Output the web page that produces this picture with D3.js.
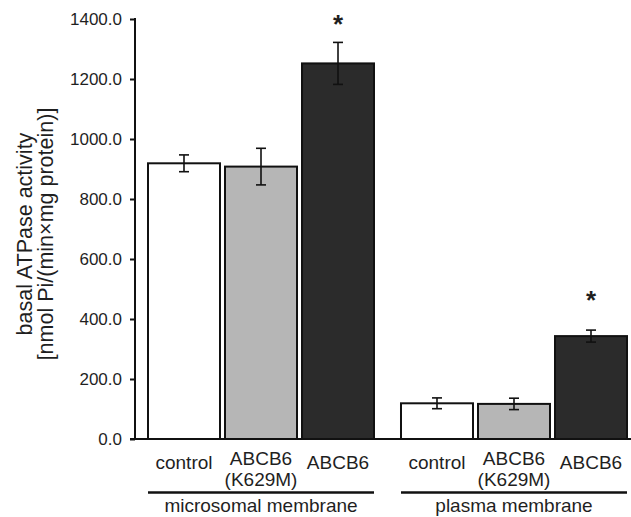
<!DOCTYPE html>
<html>
<head>
<meta charset="utf-8">
<script src="https://cdn.jsdelivr.net/npm/d3@7/dist/d3.min.js"></script>
<style>
  body { margin: 0; background: #fff; }
  svg { display: block; }
  text { font-family: Arial, "Liberation Sans", sans-serif; fill: #1f1f1f; }
</style>
</head>
<body>
<svg id="chart" width="631" height="517"></svg>
<script>
// ---- data ----
const groups = ["microsomal membrane", "plasma membrane"];
const categories = ["control", "ABCB6 (K629M)", "ABCB6"];
const categoryLines = [["control"], ["ABCB6", "(K629M)"], ["ABCB6"]];
const microValues = [919, 908, 1252];
const microErrors = [28, 61, 70];
const plasmaValues = [119, 117, 343];
const plasmaErrors = [18, 19, 20];
const significant = [false, false, true];
const starValues = [1397, 477];   // y value of the "*" annotation per group
const yTicks = [0, 200, 400, 600, 800, 1000, 1200, 1400];
const yTitle = ["basal ATPase activity", "[nmol Pi/(min\u00d7mg protein)]"];
const fills = ["#ffffff", "#b6b6b6", "#2b2b2b"];

const rows = [];
groups.forEach((g, gi) => {
  const vals = gi === 0 ? microValues : plasmaValues;
  const errs = gi === 0 ? microErrors : plasmaErrors;
  categories.forEach((c, ci) => {
    rows.push({ group: g, gi, cat: c, ci, value: vals[ci], err: errs[ci] });
  });
});

// ---- layout ----
const svg = d3.select("#chart");
const axisX = 135;
const y = d3.scaleLinear().domain([0, 1400]).range([439, 19]);
const xGroup = d3.scaleBand().domain(groups).range([148, 627]).paddingInner(0.1067).paddingOuter(0);
const xCat = d3.scaleBand().domain(categories).range([0, xGroup.bandwidth()]).paddingInner(0.065).paddingOuter(0);

// y axis
const yAxis = d3.axisLeft(y).tickValues(yTicks).tickFormat(d3.format(".1f")).tickSize(5).tickPadding(8);
const ga = svg.append("g").attr("transform", `translate(${axisX},0)`).call(yAxis);
ga.select(".domain").attr("stroke", "#111").attr("stroke-width", 2).attr("d", `M0,${y(1400) - 1}V${y(0)}`);
ga.selectAll(".tick line").attr("stroke", "#111").attr("stroke-width", 2);
ga.selectAll(".tick text").style("font-size", "17px").style("font-family", "Arial, 'Liberation Sans', sans-serif").attr("fill", "#1f1f1f");

// y title
const yt = svg.append("text")
  .attr("transform", `translate(0,234) rotate(-90)`)
  .attr("text-anchor", "middle")
  .style("font-size", "21.5px");
yt.append("tspan").attr("x", 0).attr("y", 32).text(yTitle[0]);
yt.append("tspan").attr("x", 0).attr("y", 53).text(yTitle[1]);

// bars
const bx = d => xGroup(d.group) + xCat(d.cat);
svg.append("g").selectAll("rect").data(rows).join("rect")
  .attr("x", d => bx(d))
  .attr("y", d => y(d.value))
  .attr("width", xCat.bandwidth())
  .attr("height", d => y(0) - y(d.value))
  .attr("fill", d => fills[d.ci])
  .attr("stroke", "#111")
  .attr("stroke-width", 2);

// baseline
svg.append("line")
  .attr("x1", axisX - 5).attr("x2", 631)
  .attr("y1", y(0)).attr("y2", y(0))
  .attr("stroke", "#111").attr("stroke-width", 2);

// error bars
const eg = svg.append("g").attr("stroke", "#111").attr("stroke-width", 1.6);
rows.forEach(d => {
  const cx = bx(d) + xCat.bandwidth() / 2;
  eg.append("line").attr("x1", cx).attr("x2", cx).attr("y1", y(d.value + d.err)).attr("y2", y(d.value - d.err));
  eg.append("line").attr("x1", cx - 5).attr("x2", cx + 5).attr("y1", y(d.value + d.err)).attr("y2", y(d.value + d.err));
  eg.append("line").attr("x1", cx - 5).attr("x2", cx + 5).attr("y1", y(d.value - d.err)).attr("y2", y(d.value - d.err));
});

// significance stars
groups.forEach((g, gi) => {
  categories.forEach((c, ci) => {
    if (!significant[ci]) return;
    svg.append("text")
      .attr("x", xGroup(g) + xCat(c) + xCat.bandwidth() / 2)
      .attr("y", y(starValues[gi]) + 13)
      .attr("text-anchor", "middle")
      .style("font-size", "26px")
      .style("font-weight", "bold")
      .text("*");
  });
});

// category labels
groups.forEach(g => {
  categories.forEach((c, ci) => {
    const cx = xGroup(g) + xCat(c) + xCat.bandwidth() / 2;
    const lines = categoryLines[ci];
    const t = svg.append("text").attr("text-anchor", "middle").style("font-size", "19px");
    if (lines.length === 1) {
      t.append("tspan").attr("x", cx).attr("y", 469).text(lines[0]);
    } else {
      t.append("tspan").attr("x", cx).attr("y", 465).text(lines[0]);
      t.append("tspan").attr("x", cx).attr("y", 486).text(lines[1]);
    }
  });
  // group line
  svg.append("line")
    .attr("x1", xGroup(g)).attr("x2", xGroup(g) + xGroup.bandwidth())
    .attr("y1", 492.5).attr("y2", 492.5)
    .attr("stroke", "#111").attr("stroke-width", 2.5);
  svg.append("text")
    .attr("x", xGroup(g) + xGroup.bandwidth() / 2)
    .attr("y", 512)
    .attr("text-anchor", "middle")
    .style("font-size", "19px")
    .text(g);
});
</script>
</body>
</html>
